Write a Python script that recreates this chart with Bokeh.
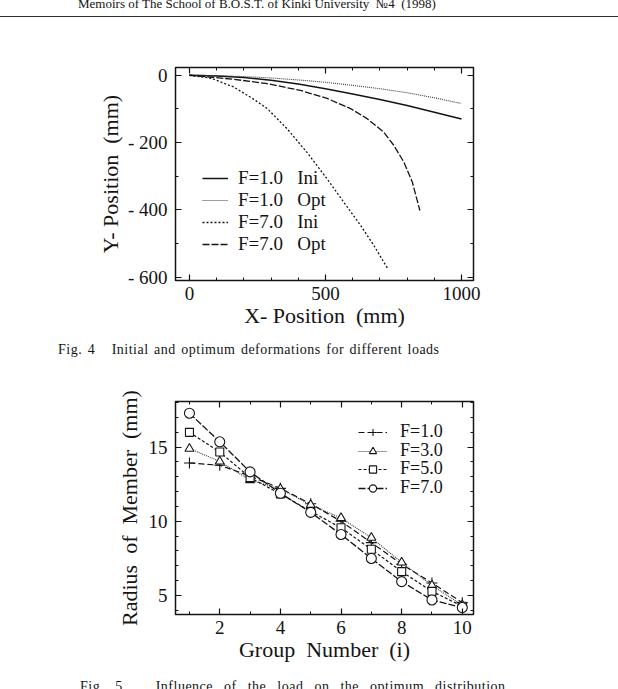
from bokeh.plotting import figure
from bokeh.models import (Range1d, FixedTicker, LinearAxis, Legend, LegendItem,
                          CustomJSTickFormatter, Div)
from bokeh.layouts import column
from bokeh.embed import file_html
from bokeh.resources import INLINE

# ---------------- Fig. 4 : deformed shapes (mm) ----------------
x_f1_ini = [0, 100, 200, 300, 400, 500, 600, 700, 800, 900, 1000]
y_f1_ini = [0, -2, -7, -15, -26, -40, -56, -72, -90, -110, -130]

x_f1_opt = [0, 100, 200, 300, 400, 500, 600, 700, 800, 900, 1000]
y_f1_opt = [0, -1, -4, -8, -14, -21, -30, -40, -52, -67, -84]

x_f7_ini = [0, 80, 163, 230, 286, 359, 433, 506, 567, 629, 678, 729]
y_f7_ini = [0, -9, -35, -68, -99, -159, -230, -308, -377, -446, -506, -575]

x_f7_opt = [0, 163, 286, 408, 506, 592, 653, 714, 751, 788, 819, 847]
y_f7_opt = [0, -12, -25, -45, -69, -99, -129, -169, -208, -258, -317, -402]

NB = "\u00a0"
fig4_labels = [f"F=1.0{NB}{NB}{NB}Ini", f"F=1.0{NB}{NB}{NB}Opt",
               f"F=7.0{NB}{NB}{NB}Ini", f"F=7.0{NB}{NB}{NB}Opt"]

# ---------------- Fig. 5 : member radius by group ----------------
groups = [1, 2, 3, 4, 5, 6, 7, 8, 9, 10]
r_f1 = [13.93, 13.78, 13.05, 12.22, 11.18, 10.00, 8.56, 7.10, 5.84, 4.51]
r_f3 = [14.90, 14.04, 12.78, 12.18, 11.10, 10.22, 8.89, 7.22, 5.67, 4.33]
r_f5 = [16.00, 14.67, 12.95, 11.84, 10.67, 9.56, 8.11, 6.60, 5.27, 4.27]
r_f7 = [17.29, 15.36, 13.33, 11.89, 10.60, 9.11, 7.49, 5.93, 4.69, 4.18]
fig5_labels = ["F=1.0", "F=3.0", "F=5.0", "F=7.0"]

header_text = "Memoirs of The School of B.O.S.T. of Kinki University  \u21164  (1998)"
caption4 = "Fig. 4   Initial and optimum deformations for different loads"
caption5 = "Fig. 5   Influence of the load on the optimum distribution"

SERIF = "Liberation Serif"
INK = "#141414"
W = 618


def page_text(h, spans, host_styles=None):
    """HTML strip holding running header / figure captions."""
    parts = []
    for (x, y, txt, fs, ls, ws) in spans:
        parts.append(
            f'<div style="position:absolute;top:{y}px;left:{x}px;'
            f"font-family:'{SERIF}';font-size:{fs}px;line-height:{fs}px;"
            f'white-space:pre;color:{INK};letter-spacing:{ls}px;word-spacing:{ws}px;">'
            f'{txt}</div>')
    html = (f'<div style="position:relative;display:block;width:{W}px;height:{h}px;'
            f'overflow:hidden;margin:0;padding:0;">' + "".join(parts) + "</div>")
    styles = {"overflow": "hidden", "height": f"{h}px", "box-sizing": "border-box"}
    if host_styles:
        styles.update(host_styles)
    return Div(text=html, width=W, height=h, margin=0, styles=styles)


def style_chart(p, xticks, xminor, yticks, yminor, xlabel, ylabel, ylab_standoff):
    p.outline_line_color = INK
    p.outline_line_width = 1.5
    p.grid.visible = False
    p.background_fill_color = "white"
    p.border_fill_color = "white"
    neg_fmt = CustomJSTickFormatter(code="return tick < 0 ? '- ' + Math.abs(tick) : String(tick);")
    for ax, ticks, minor in ((p.xaxis[0], xticks, xminor), (p.yaxis[0], yticks, yminor)):
        ax.ticker = FixedTicker(ticks=ticks, minor_ticks=minor)
        ax.formatter = neg_fmt
        ax.axis_line_color = None
        ax.major_tick_in = 6
        ax.major_tick_out = 0
        ax.minor_tick_in = 3
        ax.minor_tick_out = 0
        ax.major_tick_line_color = INK
        ax.minor_tick_line_color = INK
        ax.major_tick_line_width = 1.2
        ax.major_label_text_font = SERIF
        ax.major_label_text_font_size = "19px"
        ax.major_label_text_color = INK
        ax.axis_label_text_font = SERIF
        ax.axis_label_text_font_size = "22px"
        ax.axis_label_text_font_style = "normal"
        ax.axis_label_text_color = INK
    p.xaxis[0].axis_label = xlabel
    p.yaxis[0].axis_label = ylabel
    p.xaxis[0].major_label_standoff = 6
    p.xaxis[0].axis_label_standoff = 0
    p.yaxis[0].major_label_standoff = 8
    p.yaxis[0].axis_label_standoff = ylab_standoff
    # mirrored tick marks on the top and right edges
    for loc, ticks, minor in (("above", xticks, xminor), ("right", yticks, yminor)):
        ax = LinearAxis(ticker=FixedTicker(ticks=ticks, minor_ticks=minor),
                        formatter=CustomJSTickFormatter(code="return '';"),
                        major_label_text_font_size="0px", major_label_standoff=0,
                        axis_line_color=None, major_tick_in=6, major_tick_out=0,
                        minor_tick_in=3, minor_tick_out=0,
                        major_tick_line_color=INK, minor_tick_line_color=INK,
                        major_tick_line_width=1.2)
        p.add_layout(ax, loc)


# ---------------- page header (text sitting on a full-width rule) ----------------
header = page_text(17, [(78, -3, header_text, 13, 0, 0)],
                   host_styles={"border-bottom": "1.6px solid #303030"})

# ---------------- Fig. 4 ----------------
p4 = figure(width=W, height=315, x_range=Range1d(-51, 1044), y_range=Range1d(-610, 23),
            min_border_left=175, min_border_right=145, min_border_top=50,
            min_border_bottom=52, output_backend="svg", toolbar_location=None)
style_chart(p4, [0, 500, 1000], list(range(0, 1001, 100)),
            [0, -200, -400, -600], list(range(-600, 1, 100)),
            f"X- Position{NB}{NB}(mm)", f"Y- Position{NB}{NB}(mm)", 2)

l1 = p4.line(x_f1_ini, y_f1_ini, line_color=INK, line_width=1.5)
l2 = p4.line(x_f1_opt, y_f1_opt, line_color="#3a3a3a", line_width=1.1, line_dash="1 1")
l3 = p4.line(x_f7_ini, y_f7_ini, line_color=INK, line_width=1.3, line_dash="2 2")
l4 = p4.line(x_f7_opt, y_f7_opt, line_color=INK, line_width=1.3, line_dash="7 2")

leg4 = Legend(items=[LegendItem(label=t, renderers=[r]) for t, r in zip(fig4_labels, [l1, l2, l3, l4])],
              location=(27, 25), padding=0, margin=0, spacing=0,
              border_line_alpha=0, background_fill_alpha=0,
              glyph_width=26, glyph_height=20, label_standoff=10,
              label_text_font=SERIF, label_text_font_size="19px", label_text_color=INK)
p4.add_layout(leg4, "center")

cap4 = page_text(40, [(58, 11, caption4, 14, 0.5, 1.5)])

# ---------------- Fig. 5 ----------------
p5 = figure(width=W, height=292, x_range=Range1d(0.54, 10.37), y_range=Range1d(3.71, 18.08),
            min_border_left=175, min_border_right=145, min_border_top=29,
            min_border_bottom=48, output_backend="svg", toolbar_location=None)
style_chart(p5, [2, 4, 6, 8, 10], list(range(1, 11)),
            [5, 10, 15], list(range(4, 19)),
            f"Group{NB}{NB}Number{NB}{NB}(i)", f"Radius{NB}{NB}of{NB}{NB}Member{NB}{NB}(mm)", 4)
p5.xaxis[0].major_label_standoff = 8
p5.xaxis[0].axis_label_standoff = -3

series = [
    (r_f1, "6 3", 1.2, INK, "cross", 11),
    (r_f3, "1 1", 1.1, "#3a3a3a", "triangle", 9),
    (r_f5, "3 2", 1.2, INK, "square", 8),
    (r_f7, "7 2", 1.3, INK, "circle", 10),
]
# one single-entry legend per series so each row sits at its own height
legend_rows_from_bottom = [172, 153, 135, 116]
for (vals, dash, lw, col, marker, size), lab, ly in zip(series, fig5_labels, legend_rows_from_bottom):
    ln = p5.line(groups, vals, line_color=col, line_width=lw, line_dash=dash)
    mk = p5.scatter(groups, vals, marker=marker, size=size, line_color=INK,
                    fill_color="white", line_width=1.1)
    leg = Legend(items=[LegendItem(label=lab, renderers=[ln, mk])], location=(183, ly),
                 padding=0, margin=0, spacing=0,
                 border_line_alpha=0, background_fill_alpha=0,
                 glyph_width=29, glyph_height=18, label_standoff=13,
                 label_text_font=SERIF, label_text_font_size="18px", label_text_color=INK)
    p5.add_layout(leg, "center")

cap5 = page_text(25, [(80, 16, caption5, 14, 0.5, 7)])

page = column(header, p4, cap4, p5, cap5, spacing=0)

open("out.html", "w").write(file_html(page, INLINE))
